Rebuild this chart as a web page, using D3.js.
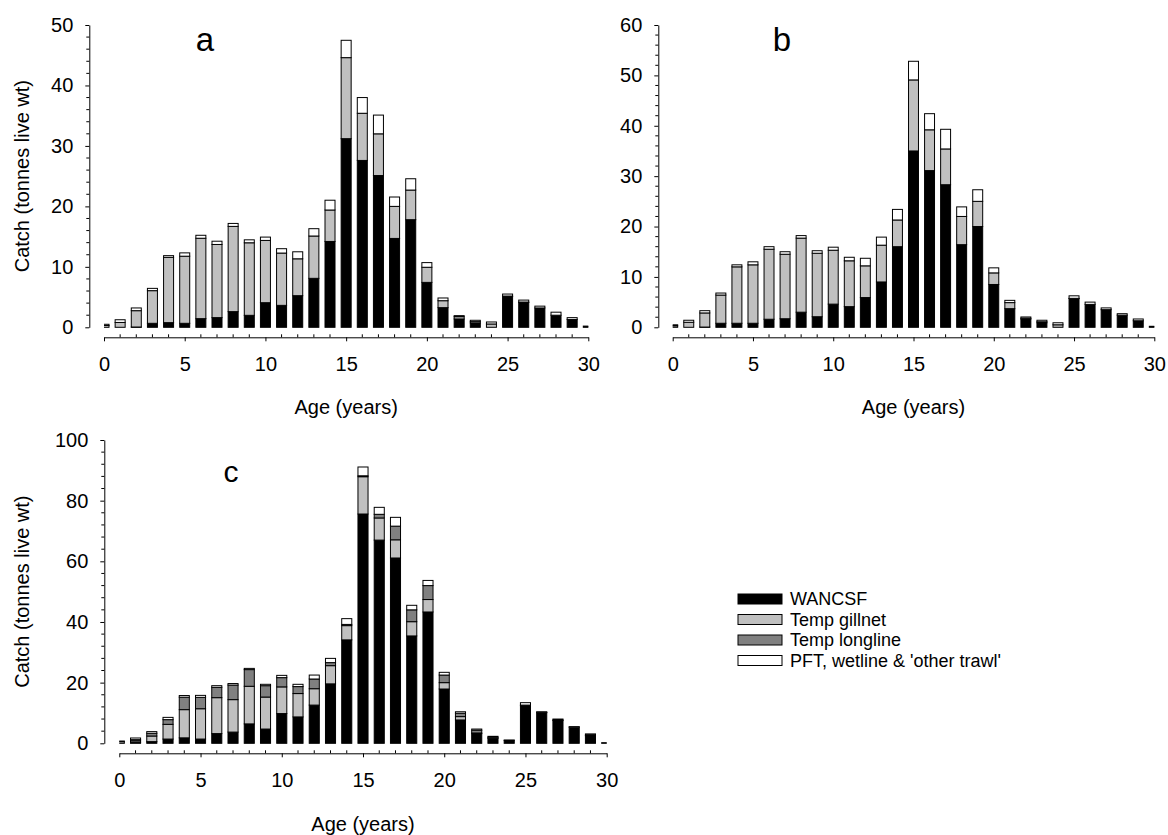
<!DOCTYPE html>
<html>
<head>
<meta charset="utf-8">
<script src="https://cdn.jsdelivr.net/npm/d3@7"></script>
<style>
  body { margin: 0; background: #fff; }
  svg { display: block; font-family: "Liberation Sans", Arial, sans-serif; }
</style>
</head>
<body>
<svg id="chart"></svg>
<script>
// ages on the x axis (years)
var ages = [0,1,2,3,4,5,6,7,8,9,10,11,12,13,14,15,16,17,18,19,20,21,22,23,24,25,26,27,28,29,30];

// panel a: catch by fleet (tonnes live wt)
var wancsfA  = [0,0,0.05,0.66,0.77,0.66,1.43,1.6,2.59,1.98,4.07,3.63,5.23,8.1,14.2,31.2,27.6,25.1,14.7,17.8,7.43,3.25,1.38,0.72,0,5.1,4.1,3.2,2.0,1.3,0.2];
var gillnetA = [0.3,0.8,2.7,5.4,10.8,11.1,13.3,12.1,14.1,12.0,10.3,8.65,6.1,7.0,5.2,13.4,7.8,6.9,5.3,4.9,2.5,1.15,0.38,0.22,0.55,0.07,0.08,0,0,0,0];
var otherA   = [0.2,0.45,0.45,0.38,0.28,0.55,0.49,0.54,0.49,0.49,0.55,0.72,1.16,1.21,1.62,2.87,2.6,3.1,1.55,1.87,0.77,0.45,0.17,0.22,0.33,0.33,0.32,0.3,0.5,0.3,0];

// panel b
var wancsfB  = [0,0,0.05,0.8,0.8,0.8,1.6,1.7,3.0,2.1,4.6,4.1,5.9,9.0,16.0,35.0,31.1,28.3,16.4,20.0,8.5,3.7,1.65,0.9,0,5.7,4.55,3.5,2.4,1.3,0.2];
var gillnetB = [0.3,1.0,2.8,5.6,11.2,11.6,13.9,12.8,14.7,12.6,10.7,9.1,6.3,7.3,5.3,14.1,8.1,7.1,5.6,5.0,2.3,1.2,0.15,0.2,0.5,0.05,0,0,0,0,0];
var otherB   = [0.2,0.4,0.45,0.4,0.4,0.6,0.5,0.5,0.5,0.5,0.6,0.7,1.5,1.6,2.1,3.7,3.2,3.9,1.9,2.3,1.0,0.45,0.25,0.3,0.4,0.5,0.45,0.35,0.3,0.35,0];

// panel c
var wancsfC   = [0,0.3,0.55,1.4,1.8,1.4,3.2,3.7,6.4,4.7,9.8,8.7,12.6,19.6,34.1,75.6,67.0,61.1,35.4,43.3,17.9,7.7,3.2,1.65,0.9,12.4,10.1,7.5,5.3,2.5,0.2];
var gillnetC  = [0,0.5,1.85,4.85,9.3,10.0,11.85,10.7,12.4,10.55,8.8,7.7,5.4,6.0,4.7,12.3,7.3,6.0,4.7,4.1,2.1,1.1,0.2,0,0,0,0,0,0,0,0];
var longlineC = [0.6,0.4,0.9,1.55,4.1,3.75,3.4,4.8,5.5,3.75,3.05,2.3,3.2,1.0,0.4,0.3,1.2,4.5,3.9,4.6,2.5,1.1,0.9,0.35,0,0.2,0.1,0.2,0,0.25,0];
var otherC    = [0.15,0.55,0.55,0.75,0.55,0.65,0.55,0.5,0.4,0.45,0.75,0.75,1.3,1.4,1.9,2.9,2.3,2.9,1.5,1.7,0.9,0.5,0.4,0.3,0.2,0.8,0.2,0.3,0.2,0.35,0];

var fleetNames = ["WANCSF", "Temp gillnet", "Temp longline", "PFT, wetline & 'other trawl'"];
var fleetColors = ["#000000", "#c0c0c0", "#808080", "#ffffff"];

var xTicks = [0,5,10,15,20,25,30];

var svg = d3.select("#chart").attr("width", 1168).attr("height", 835);

var drawPanel = function(p)
{
  var x = d3.scaleLinear().domain([0, 30]).range([p.x0, p.x1]);
  var y = d3.scaleLinear().domain([0, p.ymax]).range([p.yb, p.yt]);
  var barWidth = (x(1) - x(0)) * 0.62;

  var rows = ages.map(function(a, i) {
    var r = {age: a};
    p.series.forEach(function(s) { r[s.key] = s.values[i]; });
    return r;
  });
  var keys = p.series.map(function(s) { return s.key; });
  var stacked = d3.stack().keys(keys)(rows);

  // bars at age 0 and 30 are cut at the ends of the axis
  svg.append("clipPath").attr("id", "clip" + p.name)
    .append("rect")
    .attr("x", x(0)).attr("y", 0)
    .attr("width", x(30) - x(0)).attr("height", p.yb + 1);

  var g = svg.append("g").attr("clip-path", "url(#clip" + p.name + ")");
  g.selectAll("g.layer")
    .data(stacked)
    .enter()
    .append("g")
    .attr("class", "layer")
    .attr("fill", function(d) { return p.colors[d.key]; })
    .selectAll("rect")
    .data(function(d) { return d.filter(function(s) { return s[1] - s[0] > 0; }); })
    .enter()
    .append("rect")
    .attr("x", function(d) { return x(d.data.age) - barWidth/2; })
    .attr("y", function(d) { return y(d[1]); })
    .attr("width", barWidth)
    .attr("height", function(d) { return y(d[0]) - y(d[1]); })
    .attr("stroke", "#000")
    .attr("stroke-width", 1);

  // y axis
  var yAxis = svg.append("g")
    .attr("transform", "translate(" + p.ax + ",0)")
    .call(d3.axisLeft(y).tickValues(p.yMajor).tickSize(4).tickSizeOuter(0).tickPadding(12));
  yAxis.selectAll("text").attr("font-size", "20px").attr("font-family", "Liberation Sans, Arial, sans-serif").attr("fill", "#000");
  yAxis.select(".domain").attr("stroke", "#000");
  svg.append("g").selectAll("line")
    .data(p.yMinor)
    .enter()
    .append("line")
    .attr("x1", p.ax - 3).attr("x2", p.ax)
    .attr("y1", function(d) { return y(d); })
    .attr("y2", function(d) { return y(d); })
    .attr("stroke", "#000");

  // x axis sits a little below the zero line
  var xAxis = svg.append("g")
    .attr("transform", "translate(0," + p.xAxisY + ")")
    .call(d3.axisBottom(x).tickValues(xTicks).tickSize(4).tickSizeOuter(0).tickPadding(16));
  xAxis.selectAll("text").attr("font-size", "20px").attr("font-family", "Liberation Sans, Arial, sans-serif").attr("fill", "#000");
  svg.append("g").selectAll("line")
    .data(ages.filter(function(a) { return a % 5 != 0; }))
    .enter()
    .append("line")
    .attr("x1", function(d) { return x(d); })
    .attr("x2", function(d) { return x(d); })
    .attr("y1", p.xAxisY - 3).attr("y2", p.xAxisY)
    .attr("stroke", "#000");

  svg.append("text")
    .text("Age (years)")
    .attr("x", (p.x0 + p.x1) / 2)
    .attr("y", p.xTitleY)
    .attr("text-anchor", "middle")
    .attr("font-size", "20px");

  if (p.yTitle) {
    svg.append("text")
      .text("Catch (tonnes live wt)")
      .attr("transform", "translate(" + 29 + "," + (p.yb + p.yt) / 2 + ") rotate(-90)")
      .attr("text-anchor", "middle")
      .attr("font-size", "20px");
  }

  svg.append("text")
    .text(p.name)
    .attr("x", p.labelX)
    .attr("y", p.labelY)
    .attr("text-anchor", "middle")
    .attr("font-size", p.labelSize);
}

var colA = {wancsf: fleetColors[0], gillnet: fleetColors[1], longline: fleetColors[2], other: fleetColors[3]};

drawPanel({
  name: "a", x0: 104, x1: 588.3, ax: 89.3, yb: 327.3, yt: 25, ymax: 50,
  yMajor: [0,10,20,30,40,50], yMinor: [2,4,6,8,12,14,16,18,22,24,26,28,32,34,36,38,42,44,46,48],
  xAxisY: 337.3, xTitleY: 414, yTitle: true, labelX: 205, labelY: 51, labelSize: "33px", colors: colA,
  series: [{key: "wancsf", values: wancsfA}, {key: "gillnet", values: gillnetA}, {key: "other", values: otherA}]
});

drawPanel({
  name: "b", x0: 672.7, x1: 1154.3, ax: 658.3, yb: 327.3, yt: 25, ymax: 60,
  yMajor: [0,10,20,30,40,50,60], yMinor: [2,4,6,8,12,14,16,18,22,24,26,28,32,34,36,38,42,44,46,48,52,54,56,58],
  xAxisY: 337.3, xTitleY: 414, yTitle: false, labelX: 782, labelY: 51, labelSize: "33px", colors: colA,
  series: [{key: "wancsf", values: wancsfB}, {key: "gillnet", values: gillnetB}, {key: "other", values: otherB}]
});

drawPanel({
  name: "c", x0: 119.3, x1: 606.7, ax: 104.3, yb: 743.3, yt: 440, ymax: 100,
  yMajor: [0,20,40,60,80,100], yMinor: [4,8,12,16,24,28,32,36,44,48,52,56,64,68,72,76,84,88,92,96],
  xAxisY: 753.3, xTitleY: 831, yTitle: true, labelX: 231, labelY: 482, labelSize: "30px", colors: colA,
  series: [{key: "wancsf", values: wancsfC}, {key: "gillnet", values: gillnetC}, {key: "longline", values: longlineC}, {key: "other", values: otherC}]
});

// legend
var legend = svg.append("g").attr("class", "legend");
legend.selectAll("rect")
  .data(fleetNames)
  .enter()
  .append("rect")
  .attr("x", 738)
  .attr("y", function(d, i) { return 594 + i * 20.5; })
  .attr("width", 44)
  .attr("height", 10)
  .attr("fill", function(d, i) { return fleetColors[i]; })
  .attr("stroke", "#000");
legend.selectAll("text")
  .data(fleetNames)
  .enter()
  .append("text")
  .text(function(d) { return d; })
  .attr("x", 790)
  .attr("y", function(d, i) { return 605 + i * 20.5; })
  .attr("font-size", "18px");
</script>
</body>
</html>
